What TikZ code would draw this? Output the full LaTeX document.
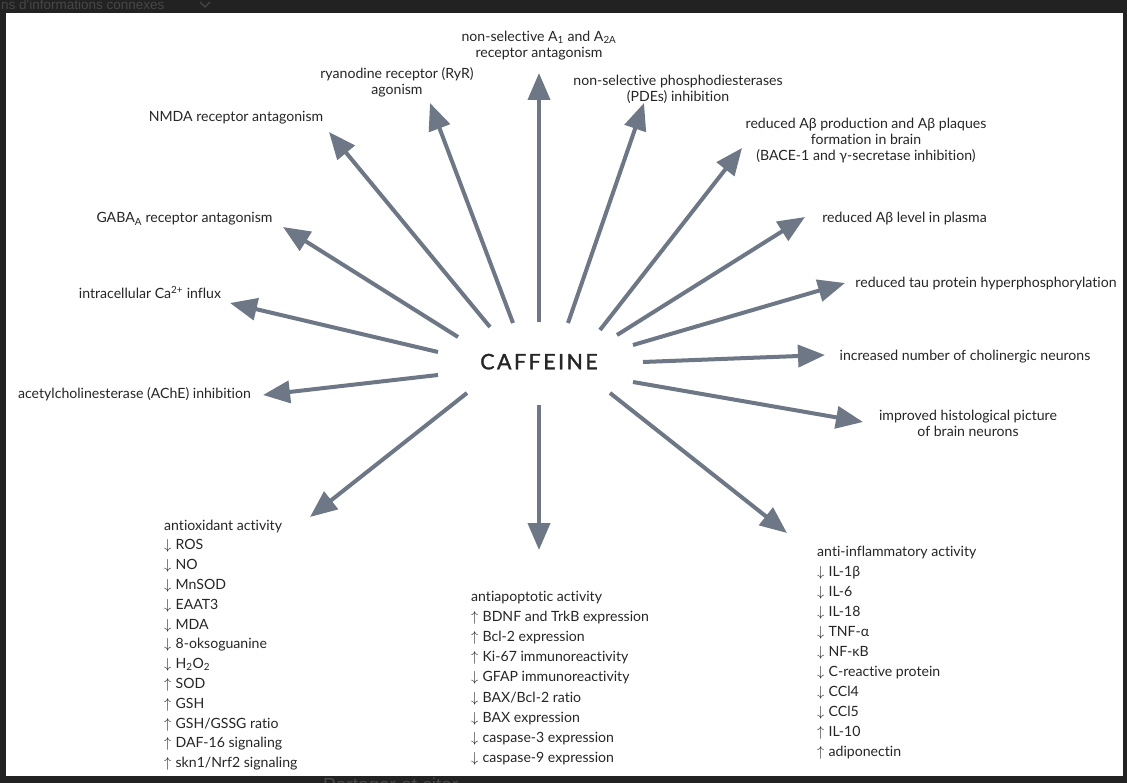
\documentclass[tikz,border=0pt]{standalone}
\usepackage{fontspec}
\setmainfont{Lato}[Ligatures={NoCommon}]
\newfontfamily\framefont{Liberation Sans}
\newfontfamily\caffont[LetterSpace=12,FakeBold=1.5]{Lato}
\usetikzlibrary{arrows.meta}
\definecolor{arr}{HTML}{6E7785}
\definecolor{txt}{HTML}{262626}
\definecolor{framebg}{HTML}{222222}
\definecolor{frametxt}{HTML}{474747}
\newcommand{\dn}{{\fontsize{15}{15}\selectfont$\downarrow$}\hspace{0.3em}}
\newcommand{\up}{{\fontsize{15}{15}\selectfont$\uparrow$}\hspace{0.3em}}
\tikzset{
  lbl/.style={text=txt, font=\fontsize{14.1}{16}\selectfont, align=center, inner sep=0pt},
  one/.style={lbl, anchor=base},
  itm/.style={text=txt, font=\fontsize{14.1}{16}\selectfont, anchor=base west, inner sep=0pt},
  eff/.style={draw=arr, line width=4pt, -{Triangle[length=27pt,width=22pt]}},
}
\begin{document}
\begin{tikzpicture}[x=1pt,y=-1pt]
\useasboundingbox (0,0) rectangle (1127,783);
\clip (0,0) rectangle (1127,783);
% screenshot frame
\fill[framebg] (0,0) rectangle (1127,783);
\node[text=frametxt, font=\framefont\fontsize{13.5}{13.5}\selectfont, anchor=base west, inner sep=0pt] (frtop) at (1,10) {ns d'informations connexes};
\draw[frametxt, line width=1.2pt] (200,2) -- (205,7) -- (210,2);
\node[text=frametxt, font=\framefont\fontsize{19}{19}\selectfont, anchor=base west, inner sep=0pt] (frbot) at (323,791) {Partager et citer};
\fill[white] (6,13) rectangle (1123,776);

% centre
\node[text=txt, font=\caffont\fontsize{21.3}{24}\selectfont, anchor=base, inner sep=0pt] (caf) at (539,369.3) {CAFFEINE};

% labels
\node[lbl] (a1) at (539,45.6) {non-selective A\textsubscript{1} and A\textsubscript{2A}\\receptor antagonism};
\node[lbl] (ryr) at (397,82.6) {ryanodine receptor (RyR)\\agonism};
\node[lbl] (pde) at (678,89.6) {non-selective phosphodiesterases\\(PDEs) inhibition};
\node[one] (nmda) at (236,121.5) {NMDA receptor antagonism};
\node[lbl] (bace) at (866,140.6) {reduced Aβ production and Aβ plaques\\formation in brain\\(BACE-1 and γ-secretase inhibition)};
\node[one] (gaba) at (184.5,223) {GABA\textsubscript{A} receptor antagonism};
\node[one] (plasma) at (904.5,222.6) {reduced Aβ level in plasma};
\node[one] (ca) at (150,299) {intracellular Ca\textsuperscript{2+} influx};
\node[one] (tau) at (986,288) {reduced tau protein hyperphosphorylation};
\node[one] (chol) at (965,360.7) {increased number of cholinergic neurons};
\node[one] (ache) at (134.5,399) {acetylcholinesterase (AChE) inhibition};
\node[lbl] (histo) at (968,423.5) {improved histological picture\\of brain neurons};

% lists
\foreach \t [count=\i from 0] in {antioxidant activity, \dn ROS, \dn NO, \dn MnSOD, \dn EAAT3, \dn MDA, \dn 8-oksoguanine, \dn H\textsubscript{2}O\textsubscript{2}, \up SOD, \up GSH, \up GSH/GSSG ratio, \up DAF-16 signaling, \up skn1/Nrf2 signaling}
  \node[itm] (ox\i) at (164,530+19.8*\i) {\t};
\foreach \t [count=\i from 0] in {antiapoptotic activity, \up BDNF and TrkB expression, \up Bcl-2 expression, \up Ki-67 immunoreactivity, \dn GFAP immunoreactivity, \dn BAX/Bcl-2 ratio, \dn BAX expression, \dn caspase-3 expression, \dn caspase-9 expression}
  \node[itm] (ap\i) at (471,601+20.2*\i) {\t};
\foreach \t [count=\i from 0] in {anti-inflammatory activity, \dn IL-1β, \dn IL-6, \dn IL-18, \dn TNF-α, \dn NF-κB, \dn C-reactive protein, \dn CCl4, \dn CCl5, \up IL-10, \up adiponectin}
  \node[itm] (in\i) at (817,556.7+20*\i) {\t};

% arrow end points
\coordinate (sUp) at (539,322);   \coordinate (tUp) at (539,73);
\coordinate (sRyr) at (513,323);  \coordinate (tRyr) at (430,103);
\coordinate (sPde) at (568,323);  \coordinate (tPde) at (644,103);
\coordinate (sNmda) at (490,327); \coordinate (tNmda) at (329,132);
\coordinate (sBace) at (600,330); \coordinate (tBace) at (742,148);
\coordinate (sGaba) at (458,337); \coordinate (tGaba) at (283,227);
\coordinate (sPl) at (617,335);   \coordinate (tPl) at (805,217);
\coordinate (sCa) at (438,352);   \coordinate (tCa) at (230,303);
\coordinate (sTau) at (633,345);  \coordinate (tTau) at (845,283);
\coordinate (sCh) at (643,362);   \coordinate (tCh) at (825,355);
\coordinate (sAc) at (438,375);   \coordinate (tAc) at (263,395);
\coordinate (sHi) at (633,382);   \coordinate (tHi) at (863,422);
\coordinate (sIn) at (610,393);   \coordinate (tIn) at (787,533);
\coordinate (sDn) at (539,405);   \coordinate (tDn) at (539,550);
\coordinate (sOx) at (467,393);   \coordinate (tOx) at (310,517);

\foreach \a in {Up,Ryr,Pde,Nmda,Bace,Gaba,Pl,Ca,Tau,Ch,Ac,Hi,In,Dn,Ox}
  \draw[eff] (s\a) -- (t\a);
\end{tikzpicture}
\end{document}
